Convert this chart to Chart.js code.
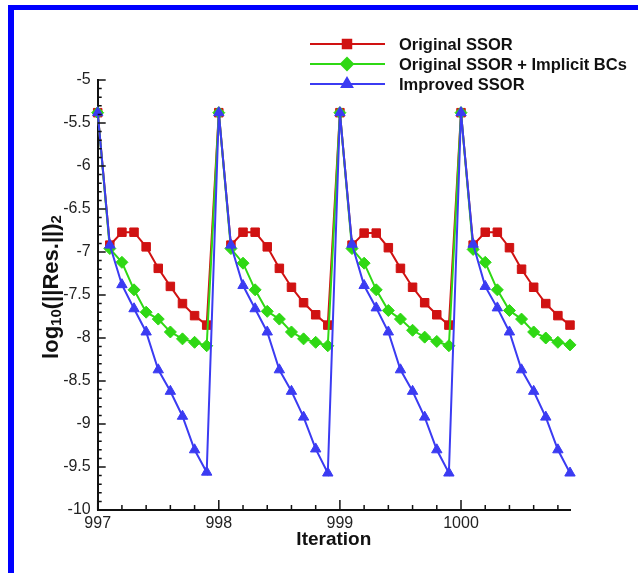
<!DOCTYPE html>
<html>
<head>
<meta charset="utf-8">
<script src="https://cdn.jsdelivr.net/npm/chart.js@4"></script>
<style>
  html, body { margin: 0; padding: 0; background: #fff; }
  canvas { display: block; }
</style>
</head>
<body>
<canvas id="grafico" width="638" height="573"></canvas>
<script>
// iteration (x) values, 10 sub-steps per iteration
const iteraciones = [
  997.0, 997.1, 997.2, 997.3, 997.4, 997.5, 997.6, 997.7, 997.8, 997.9,
  998.0, 998.1, 998.2, 998.3, 998.4, 998.5, 998.6, 998.7, 998.8, 998.9,
  999.0, 999.1, 999.2, 999.3, 999.4, 999.5, 999.6, 999.7, 999.8, 999.9,
  1000.0, 1000.1, 1000.2, 1000.3, 1000.4, 1000.5, 1000.6, 1000.7, 1000.8, 1000.9
];

const originalSSOR = [
  -5.38, -6.92, -6.77, -6.77, -6.94, -7.19, -7.40, -7.60, -7.74, -7.85,
  -5.38, -6.92, -6.77, -6.77, -6.94, -7.19, -7.41, -7.59, -7.73, -7.85,
  -5.38, -6.92, -6.78, -6.78, -6.95, -7.19, -7.41, -7.59, -7.73, -7.85,
  -5.38, -6.92, -6.77, -6.77, -6.95, -7.20, -7.41, -7.60, -7.74, -7.85
];

const implicitBCs = [
  -5.38, -6.96, -7.12, -7.44, -7.70, -7.78, -7.93, -8.01, -8.05, -8.09,
  -5.38, -6.96, -7.13, -7.44, -7.69, -7.78, -7.93, -8.01, -8.05, -8.09,
  -5.38, -6.96, -7.13, -7.44, -7.68, -7.78, -7.91, -7.99, -8.04, -8.09,
  -5.38, -6.97, -7.12, -7.44, -7.68, -7.78, -7.93, -8.00, -8.05, -8.08
];

const improvedSSOR = [
  -5.38, -6.92, -7.38, -7.66, -7.93, -8.37, -8.62, -8.91, -9.30, -9.56,
  -5.38, -6.92, -7.39, -7.66, -7.93, -8.37, -8.62, -8.92, -9.29, -9.57,
  -5.38, -6.91, -7.39, -7.65, -7.93, -8.37, -8.62, -8.92, -9.30, -9.57,
  -5.38, -6.91, -7.40, -7.65, -7.93, -8.37, -8.62, -8.92, -9.30, -9.57
];

const xTicks = [997, 998, 999, 1000];
const nombres = ["Original SSOR", "Original SSOR + Implicit BCs", "Improved SSOR"];

const rojo = "#d01212";
const verde = "#2fd814";
const azul = "#3b3bf2";
const fuente = "'Liberation Sans', Arial, sans-serif";

function puntos(valores){
  return iteraciones.map(function(x, i){ return {x: x, y: valores[i]}; });
}

// blue frame around the figure
const marco = {
  id: 'marco',
  beforeDraw(chart){
    const ctx = chart.ctx;
    ctx.save();
    ctx.fillStyle = "#0000ff";
    ctx.fillRect(8, 5, 6, 568);
    ctx.fillRect(8, 5, 630, 5);
    ctx.restore();
  }
};

// inward major / minor tick marks
const marcas = {
  id: 'marcas',
  afterDatasetsDraw(chart){
    const ctx = chart.ctx;
    const xs = chart.scales.x, ys = chart.scales.y;
    const area = chart.chartArea;
    ctx.save();
    ctx.strokeStyle = "#111";
    ctx.lineWidth = 1.5;
    ctx.beginPath();
    for (let k = 0; k <= 39; k += 2) {
      const v = 997 + k / 10;
      const px = xs.getPixelForValue(v);
      const len = (k % 10 === 0) ? 10 : 5;
      ctx.moveTo(px, area.bottom);
      ctx.lineTo(px, area.bottom - len);
    }
    for (let k = 0; k <= 50; k++) {
      const v = -10 + k / 10;
      const py = ys.getPixelForValue(v);
      const len = (k % 5 === 0) ? 8 : 4;
      ctx.moveTo(area.left, py);
      ctx.lineTo(area.left + len, py);
    }
    ctx.stroke();
    ctx.restore();
  }
};

// y title with real subscripts: log10(||Res.||)2
const tituloY = {
  id: 'tituloY',
  afterDraw(chart){
    const ctx = chart.ctx;
    const partes = [
      ["log", 22, 0], ["10", 15, 5], ["(||Res.||)", 22, 0], ["2", 15, 5]
    ];
    ctx.save();
    let total = 0;
    partes.forEach(function(p){
      ctx.font = "bold " + p[1] + "px " + fuente;
      total += ctx.measureText(p[0]).width;
    });
    ctx.translate(52, 287);
    ctx.rotate(-Math.PI / 2);
    ctx.fillStyle = "#111";
    ctx.textBaseline = "middle";
    ctx.textAlign = "left";
    let x = -total / 2;
    partes.forEach(function(p){
      ctx.font = "bold " + p[1] + "px " + fuente;
      ctx.fillText(p[0], x, p[2]);
      x += ctx.measureText(p[0]).width;
    });
    ctx.restore();
  }
};

// legend drawn with line + marker like the original
const leyenda = {
  id: 'leyenda',
  afterDraw(chart){
    const ctx = chart.ctx;
    const colores = [rojo, verde, azul];
    const formas = ['rect', 'rectRot', 'triangle'];
    const filas = [44, 64, 84];
    ctx.save();
    for (let i = 0; i < 3; i++) {
      const y = filas[i];
      ctx.strokeStyle = colores[i];
      ctx.lineWidth = 2;
      ctx.beginPath();
      ctx.moveTo(310, y);
      ctx.lineTo(385, y);
      ctx.stroke();
      ctx.fillStyle = colores[i];
      Chart.helpers.drawPoint(ctx, {pointStyle: formas[i], radius: 6, borderWidth: 1}, 347, y);
      ctx.fill();
      ctx.fillStyle = "#111";
      ctx.font = "bold 16.5px " + fuente;
      ctx.textBaseline = "middle";
      ctx.textAlign = "left";
      ctx.fillText(nombres[i], 399, y + 1);
    }
    ctx.restore();
  }
};

new Chart("grafico", {
  type: "line",
  data: {
    datasets: [{
      label: nombres[0],
      data: puntos(originalSSOR),
      borderColor: rojo,
      backgroundColor: rojo,
      pointBackgroundColor: rojo,
      pointStyle: 'rect',
      pointRadius: 6,
      order: 2
    },
    {
      label: nombres[1],
      data: puntos(implicitBCs),
      borderColor: verde,
      backgroundColor: verde,
      pointBackgroundColor: verde,
      pointStyle: 'rectRot',
      pointRadius: 6,
      order: 1
    },
    {
      label: nombres[2],
      data: puntos(improvedSSOR),
      borderColor: azul,
      backgroundColor: azul,
      pointBackgroundColor: azul,
      pointStyle: 'triangle',
      pointRadius: 6,
      order: 0
    }]
  },
  options: {
    responsive: false,
    animation: false,
    devicePixelRatio: 1,
    clip: false,
    borderWidth: 2,
    tension: 0,
    pointBorderWidth: 1,
    layout: { padding: { left: 0, top: 80, right: 68, bottom: 0 } },
    plugins: {
      legend: { display: false },
      tooltip: { enabled: false }
    },
    scales: {
      x: {
        type: "linear",
        min: 997,
        max: 1000.9,
        afterFit(scale){ scale.height = 63; },
        grid: { display: false, drawTicks: false },
        border: { display: true, color: "#111", width: 2 },
        ticks: {
          stepSize: 1,
          includeBounds: false,
          autoSkip: false,
          maxRotation: 0,
          padding: 4,
          color: "#222",
          font: { family: fuente, size: 16 },
          callback(v){ return xTicks.includes(v) ? String(v) : ""; }
        },
        title: {
          display: true,
          text: "Iteration",
          color: "#111",
          padding: { top: 0, bottom: 21.6 },
          font: { family: fuente, size: 19, weight: "bold" }
        }
      },
      y: {
        type: "linear",
        min: -10,
        max: -5,
        afterFit(scale){ scale.width = 97.7; },
        grid: { display: false, drawTicks: false },
        border: { display: true, color: "#111", width: 2 },
        ticks: {
          stepSize: 0.5,
          autoSkip: false,
          padding: 7,
          color: "#222",
          font: { family: fuente, size: 16 },
          callback(v){ return String(Math.round(v * 10) / 10); }
        },
        title: { display: false }
      }
    }
  },
  plugins: [marco, marcas, tituloY, leyenda]
});
</script>
</body>
</html>
